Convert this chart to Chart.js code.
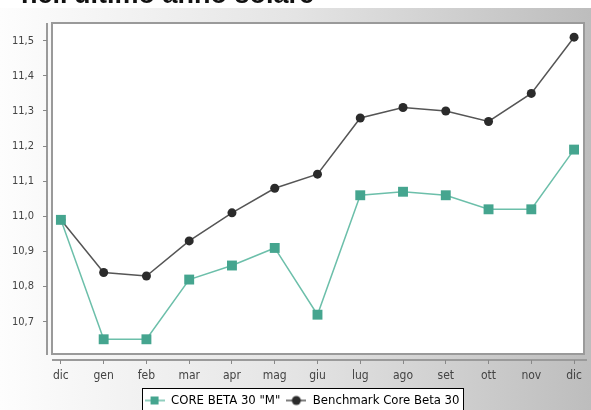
<!DOCTYPE html>
<html>
<head>
<meta charset="utf-8">
<script src="https://cdn.jsdelivr.net/npm/chart.js@4"></script>
<style>
  html, body { margin: 0; padding: 0; background: #fff; }
  #wrap { width: 591px; height: 410px; }
</style>
</head>
<body>
<div id="wrap"><canvas id="myChart" width="591" height="410"></canvas></div>
<script>
const months = ["dic", "gen", "feb", "mar", "apr", "mag", "giu", "lug", "ago", "set", "ott", "nov", "dic"];
const coreBeta = [10.99, 10.65, 10.65, 10.82, 10.86, 10.91, 10.72, 11.06, 11.07, 11.06, 11.02, 11.02, 11.19];
const benchmark = [10.99, 10.84, 10.83, 10.93, 11.01, 11.08, 11.12, 11.28, 11.31, 11.30, 11.27, 11.35, 11.51];
const yTicks = [10.7, 10.8, 10.9, 11.0, 11.1, 11.2, 11.3, 11.4, 11.5];

const tealLine = "#6cbfaa";
const tealMark = "#45a58f";
const darkLine = "#555555";
const darkMark = "#2b2b2b";
const axisGray = "#9a9a9a";
const narrow = "'DejaVu Sans Condensed', 'Liberation Sans Narrow', 'DejaVu Sans', sans-serif";

// small legend icons: line with marker in the middle
const legendIcon = (line, mark, square) => {
  const c = document.createElement("canvas");
  c.width = 20;
  c.height = 12;
  const g = c.getContext("2d");
  g.strokeStyle = line;
  g.lineWidth = 1.5;
  g.beginPath();
  g.moveTo(0, 6);
  g.lineTo(20, 6);
  g.stroke();
  g.fillStyle = mark;
  if (square) {
    g.fillRect(6, 2, 8, 8);
  } else {
    g.beginPath();
    g.arc(10, 6, 4.5, 0, Math.PI * 2);
    g.fill();
  }
  return c;
};

const toPoints = (arr) => arr.map((v, i) => ({ x: i, y: v }));

const legendRect = (chart) => {
  const lg = chart.legend;
  if (!lg || !lg.legendHitBoxes.length) return null;
  const boxes = lg.legendHitBoxes;
  const last = boxes[boxes.length - 1];
  const x0 = Math.round(boxes[0].left - 3);
  const x1 = Math.round(last.left + last.width + 4);
  return { x: x0, y: Math.round(lg.top), w: x1 - x0, h: 40 };
};

const backdrop = {
  id: "backdrop",
  afterLayout(chart) {
    // legend box sits a bit right of centre in the original
    const lg = chart.legend;
    if (lg) {
      lg.left += 8;
      lg.right += 8;
    }
  },
  beforeDraw(chart) {
    const { ctx, width, height, chartArea: a } = chart;
    ctx.save();
    ctx.fillStyle = "#ffffff";
    ctx.fillRect(0, 0, width, height);
    const grad = ctx.createLinearGradient(0, 0, width, 0);
    grad.addColorStop(0, "#fdfdfd");
    grad.addColorStop(0.5, "#e4e4e4");
    grad.addColorStop(1, "#bdbdbd");
    ctx.fillStyle = grad;
    ctx.fillRect(0, 8, width, height - 8);
    // cut-off title line
    ctx.fillStyle = "#111";
    ctx.font = "bold 27px 'Liberation Sans', Arial, sans-serif";
    ctx.textBaseline = "alphabetic";
    ctx.fillText("nell'ultimo anno solare", 21, 3);
    // plot box
    ctx.fillStyle = "#ffffff";
    ctx.fillRect(a.left + 5, a.top, a.right - a.left - 5, a.bottom - a.top - 6);
    ctx.strokeStyle = axisGray;
    ctx.lineWidth = 2;
    ctx.strokeRect(a.left + 5, a.top, a.right - a.left - 5, a.bottom - a.top - 6);
    // axis lines, not touching each other
    ctx.beginPath();
    ctx.moveTo(a.left, a.top);
    ctx.lineTo(a.left, a.bottom - 5);
    ctx.moveTo(a.left + 5, a.bottom);
    ctx.lineTo(a.right + 3, a.bottom);
    ctx.stroke();
    // legend background
    const r = legendRect(chart);
    if (r) {
      ctx.fillStyle = "#fff";
      ctx.fillRect(r.x, r.y, r.w, r.h);
    }
    ctx.restore();
  },
  afterDraw(chart) {
    const r = legendRect(chart);
    if (!r) return;
    const { ctx } = chart;
    ctx.save();
    ctx.strokeStyle = "#000";
    ctx.lineWidth = 1;
    ctx.strokeRect(r.x + 0.5, r.y + 0.5, r.w, r.h);
    ctx.restore();
  },
};

const ctx = document.getElementById("myChart");
const myChart = new Chart(ctx, {
  type: "line",
  data: {
    datasets: [
      {
        label: 'CORE BETA 30 "M"',
        data: toPoints(coreBeta),
        borderColor: tealLine,
        borderWidth: 1.5,
        pointStyle: "rect",
        pointRadius: 7,
        pointBackgroundColor: tealMark,
        pointBorderColor: tealMark,
        pointBorderWidth: 0,
        tension: 0,
      },
      {
        label: "Benchmark Core Beta 30",
        data: toPoints(benchmark),
        borderColor: darkLine,
        borderWidth: 1.5,
        pointStyle: "circle",
        pointRadius: 4.5,
        pointBackgroundColor: darkMark,
        pointBorderColor: darkMark,
        pointBorderWidth: 0,
        tension: 0,
      },
    ],
  },
  options: {
    responsive: false,
    animation: false,
    events: [],
    layout: { padding: { top: 23, right: 3, left: 0, bottom: 0 } },
    scales: {
      x: {
        type: "linear",
        min: -0.325,
        max: 12.232,
        afterBuildTicks: (s) => {
          s.ticks = months.map((m, i) => ({ value: i }));
        },
        afterFit: (s) => {
          s.height = 28;
        },
        ticks: {
          autoSkip: false,
          maxRotation: 0,
          padding: 5,
          color: "#444",
          font: { family: narrow, size: 12 },
          callback: (v) => months[v],
        },
        grid: { drawOnChartArea: false, tickLength: 4, tickColor: "#888", tickWidth: 1 },
        border: { display: false },
      },
      y: {
        min: 10.591,
        max: 11.5504,
        afterBuildTicks: (s) => {
          s.ticks = yTicks.map((v) => ({ value: v }));
        },
        afterFit: (s) => {
          s.width = 47;
        },
        ticks: {
          padding: 9,
          color: "#444",
          font: { family: narrow, size: 11 },
          callback: (v) => v.toFixed(1).replace(".", ","),
        },
        grid: { drawOnChartArea: false, tickLength: 4, tickColor: "#888", tickWidth: 1 },
        border: { display: false },
      },
    },
    plugins: {
      title: { display: false },
      tooltip: { enabled: false },
      legend: {
        display: true,
        position: "bottom",
        maxHeight: 22,
        labels: {
          color: "#000",
          font: { family: narrow, size: 13 },
          usePointStyle: true,
          pointStyleWidth: 20,
          padding: 6,
          generateLabels: (chart) =>
            chart.data.datasets.map((d, i) => ({
              text: d.label,
              datasetIndex: i,
              pointStyle: i === 0 ? legendIcon(tealLine, tealMark, true) : legendIcon(darkLine, darkMark, false),
              fontColor: "#000",
              lineWidth: 0,
              hidden: false,
            })),
        },
      },
    },
  },
  plugins: [backdrop],
});
</script>
</body>
</html>
